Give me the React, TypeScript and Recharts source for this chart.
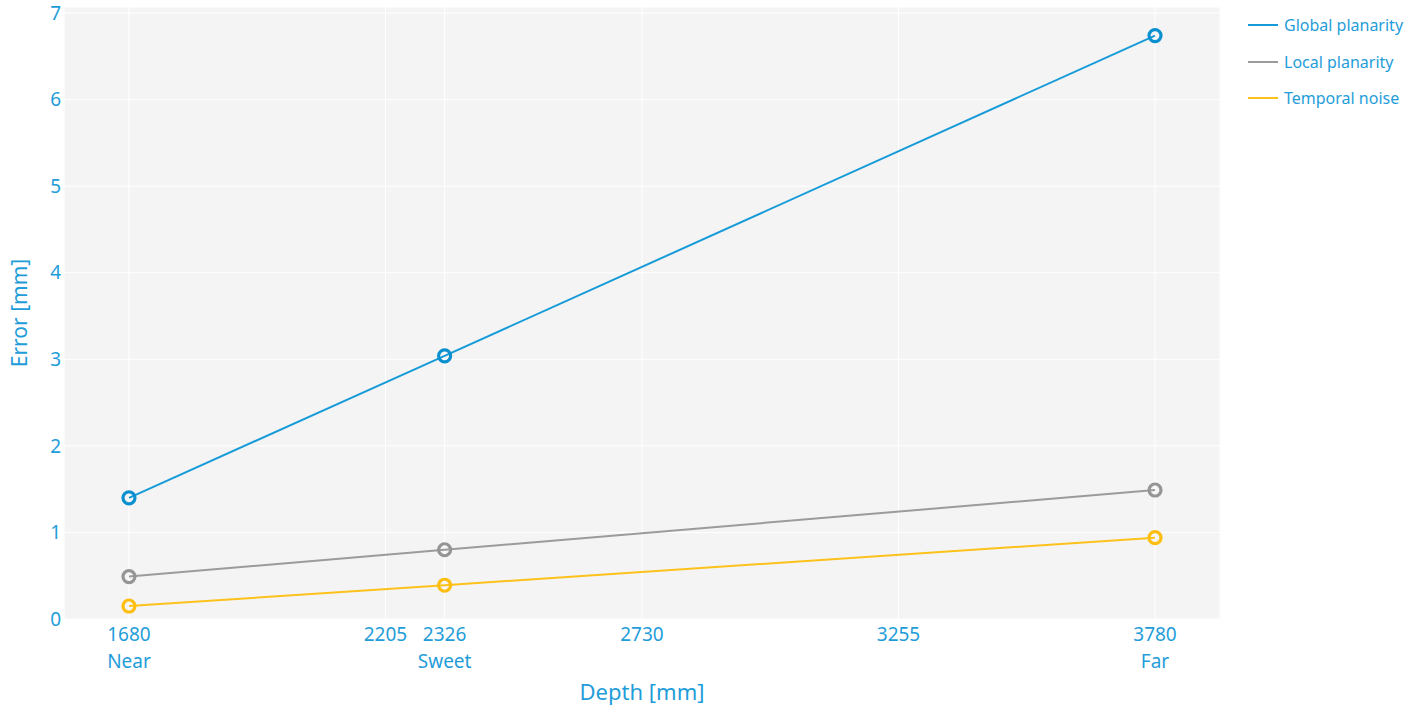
import React from 'react';
import { CartesianGrid, Label, Legend, Line, LineChart, XAxis, YAxis } from 'recharts';

const depthTicks = [1680, 2205, 2326, 2730, 3255, 3780];
const depthNames: Record<number, string> = { 1680: 'Near', 2326: 'Sweet', 3780: 'Far' };
const depths = [1680, 2326, 3780];
const globalPlanarity = [1.4, 3.04, 6.74];
const localPlanarity = [0.49, 0.8, 1.49];
const temporalNoise = [0.15, 0.39, 0.94];
const errorTicks = [0, 1, 2, 3, 4, 5, 6, 7];

const TEXT = '#1f9dd9';
const BLUE = '#169bd8';
const GRAY = '#9b9b9b';
const YELLOW = '#fcc21b';
const FONT = '"Noto Sans", sans-serif';

const data = depths.map((d, i) => ({
  depth: d,
  global: globalPlanarity[i],
  local: localPlanarity[i],
  temporal: temporalNoise[i],
}));

function DepthTick({ x, y, payload }: any) {
  const name = depthNames[payload.value];
  return (
    <text x={x} y={y} textAnchor="middle" fill={TEXT} fontSize={19} fontFamily={FONT}>
      <tspan x={x} dy={14}>{payload.value}</tspan>
      {name && (
        <tspan x={x} dy={27}>
          {name}
        </tspan>
      )}
    </text>
  );
}

function LegendBox({ payload }: any) {
  return (
    <div style={{ fontFamily: FONT, fontSize: 16, color: TEXT }}>
      {payload.map((p: any) => (
        <div key={p.value} style={{ display: 'flex', alignItems: 'center', height: 36.5 }}>
          <span style={{ display: 'inline-block', width: 30, height: 2, background: p.color, marginRight: 6 }} />
          <span>{p.value}</span>
        </div>
      ))}
    </div>
  );
}

export default function App() {
  return (
    <div style={{ position: 'absolute', left: 0, top: 0 }}>
      <LineChart width={1419} height={712} data={data} margin={{ top: 7, right: 29, bottom: 0, left: 0 }}>
        <CartesianGrid fill="#f4f4f4" stroke="#ffffff" strokeWidth={1} />
        <XAxis
          dataKey="depth"
          type="number"
          domain={[1547, 3913]}
          ticks={depthTicks}
          interval={0}
          height={93}
          axisLine={false}
          tickLine={false}
          tick={<DepthTick />}
        >
          <Label
            value="Depth [mm]"
            position="insideBottom"
            offset={12}
            fill={TEXT}
            fontSize={22}
            fontFamily={FONT}
          />
        </XAxis>
        <YAxis
          type="number"
          domain={[0, 7.07]}
          ticks={errorTicks}
          width={64}
          axisLine={false}
          tickLine={false}
          tickSize={0}
          tickMargin={3}
          tick={{ fill: TEXT, fontSize: 19, fontFamily: FONT }}
        >
          <Label
            content={({ viewBox }: any) => {
              const cx = viewBox.x + 19;
              const cy = viewBox.y + viewBox.height / 2;
              return (
                <text
                  x={cx}
                  y={cy}
                  transform={`rotate(-90, ${cx}, ${cy})`}
                  textAnchor="middle"
                  dominantBaseline="central"
                  fill={TEXT}
                  fontSize={21}
                  fontFamily={FONT}
                >
                  Error [mm]
                </text>
              );
            }}
          />
        </YAxis>
        <Legend
          layout="vertical"
          verticalAlign="top"
          align="right"
          content={<LegendBox />}
          wrapperStyle={{ position: 'absolute', left: 1248, top: 7, width: 170 }}
        />
        <Line
          dataKey="global"
          name="Global planarity"
          stroke={BLUE}
          strokeWidth={2}
          dot={{ r: 6, stroke: '#0a90cf', strokeWidth: 3.2, fill: 'none' }}
          isAnimationActive={false}
        />
        <Line
          dataKey="local"
          name="Local planarity"
          stroke={GRAY}
          strokeWidth={2}
          dot={{ r: 6, stroke: '#959595', strokeWidth: 3.2, fill: 'none' }}
          isAnimationActive={false}
        />
        <Line
          dataKey="temporal"
          name="Temporal noise"
          stroke={YELLOW}
          strokeWidth={2}
          dot={{ r: 6, stroke: '#fdbe0f', strokeWidth: 3.2, fill: 'none' }}
          isAnimationActive={false}
        />
      </LineChart>
    </div>
  );
}
